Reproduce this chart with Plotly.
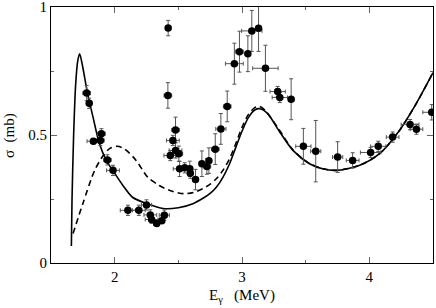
import plotly.graph_objects as go

# Experimental points
exp_x = [1.78, 1.80, 1.896, 1.833, 1.888, 1.943, 1.987, 2.104, 2.19, 2.25, 2.28, 2.29, 2.33, 2.37, 2.39,
         2.418, 2.42, 2.478, 2.457, 2.478, 2.437, 2.504, 2.51, 2.55, 2.59, 2.594, 2.635, 2.685, 2.724, 2.74,
         2.79, 2.834, 2.884, 2.94, 2.98, 3.046, 3.077, 3.13, 3.184, 3.28, 3.297, 3.386, 3.482, 3.579,
         3.751, 3.869, 4.01, 4.07, 4.183, 4.32, 4.37, 4.49]
exp_y = [0.664, 0.624, 0.505, 0.476, 0.479, 0.403, 0.362, 0.206, 0.206, 0.227, 0.188, 0.170, 0.154, 0.165, 0.187,
         0.655, 0.918, 0.520, 0.479, 0.440, 0.420, 0.427, 0.368, 0.372, 0.368, 0.351, 0.326, 0.388, 0.377, 0.400,
         0.445, 0.524, 0.612, 0.779, 0.826, 0.818, 0.907, 0.917, 0.761, 0.670, 0.647, 0.640, 0.456, 0.437,
         0.414, 0.401, 0.432, 0.456, 0.492, 0.541, 0.523, 0.589]
exp_ex = [0.03, 0.02, 0.03, 0.05, 0.03, 0.03, 0.05, 0.06, 0.05, 0.04, 0.05, 0.05, 0.02, 0.02, 0.04,
          0.03, 0.02, 0.03, 0.05, 0.05, 0.05, 0.03, 0.05, 0.03, 0.02, 0.02, 0.02, 0.02, 0.03, 0.02,
          0.03, 0.04, 0.03, 0.07, 0.03, 0.02, 0.08, 0.01, 0.10, 0.06, 0.06, 0.02, 0.06, 0.04,
          0.04, 0.05, 0.08, 0.06, 0.05, 0.07, 0.05, 0.07]
exp_ey = [0.03, 0.02, 0.02, 0.01, 0.02, 0.02, 0.02, 0.02, 0.02, 0.02, 0.02, 0.015, 0.01, 0.01, 0.02,
          0.05, 0.03, 0.05, 0.02, 0.03, 0.02, 0.03, 0.03, 0.02, 0.03, 0.02, 0.04, 0.05, 0.03, 0.05,
          0.06, 0.06, 0.06, 0.08, 0.08, 0.07, 0.08, 0.09, 0.09, 0.02, 0.02, 0.08, 0.07, 0.12,
          0.06, 0.03, 0.02, 0.02, 0.02, 0.02, 0.02, 0.03]

# Solid theory curve
solid_x = [1.66, 1.665, 1.678, 1.694, 1.71, 1.725, 1.75, 1.783, 1.83, 1.88, 1.935, 1.985, 2.065, 2.14, 2.25,
           2.38, 2.5, 2.614, 2.7, 2.75, 2.8, 2.85, 2.9, 2.95, 3.0, 3.05, 3.1, 3.14, 3.2, 3.29, 3.40, 3.53,
           3.64, 3.74, 3.92, 4.08, 4.235, 4.366, 4.50]
solid_y = [0.066, 0.245, 0.505, 0.70, 0.79, 0.818, 0.764, 0.673, 0.57, 0.467, 0.40, 0.362, 0.303, 0.257, 0.233,
           0.213, 0.216, 0.232, 0.255, 0.272, 0.297, 0.335, 0.385, 0.45, 0.515, 0.568, 0.598, 0.603, 0.585, 0.517,
           0.44, 0.388, 0.367, 0.362, 0.381, 0.427, 0.517, 0.621, 0.744]

# Dashed theory curve
dash_x = [1.673, 1.75, 1.843, 1.91, 1.96, 2.02, 2.08, 2.17, 2.26, 2.35, 2.43, 2.54, 2.62, 2.69, 2.75, 2.8,
          2.85, 2.9, 2.95, 3.0, 3.05, 3.1, 3.135, 3.18, 3.29, 3.40, 3.53, 3.64, 3.74, 3.92, 4.08, 4.235,
          4.366, 4.50]
dash_y = [0.115, 0.232, 0.362, 0.42, 0.447, 0.456, 0.445, 0.40, 0.335, 0.303, 0.284, 0.271, 0.276, 0.29, 0.308,
          0.33, 0.362, 0.405, 0.465, 0.53, 0.58, 0.607, 0.612, 0.597, 0.522, 0.442, 0.389, 0.368, 0.362, 0.381,
          0.427, 0.517, 0.621, 0.744]

x_ticks = [2, 3, 4]
y_ticks = [0, 0.5, 1]
y_tick_text = ["0", "0.5", "1"]

fig = go.Figure()
fig.add_trace(go.Scatter(x=dash_x, y=dash_y, mode="lines",
                         line=dict(color="black", width=1.6, dash="6px,4px", shape="spline", smoothing=0.8),
                         hoverinfo="skip", showlegend=False))
fig.add_trace(go.Scatter(x=solid_x, y=solid_y, mode="lines",
                         line=dict(color="black", width=1.6, shape="spline", smoothing=0.8),
                         hoverinfo="skip", showlegend=False))
fig.add_trace(go.Scatter(x=exp_x, y=exp_y, mode="markers",
                         marker=dict(color="black", size=7.5),
                         error_x=dict(type="data", array=exp_ex, color="#555", thickness=1, width=2),
                         error_y=dict(type="data", array=exp_ey, color="#555", thickness=1, width=2),
                         showlegend=False))

font = dict(family="Liberation Serif, Times New Roman, serif", size=15, color="black")
fig.update_layout(
    width=436, height=308,
    margin=dict(l=51, r=3, t=7, b=45),
    paper_bgcolor="white", plot_bgcolor="white",
    font=font,
    xaxis=dict(range=[1.5, 4.5], tickvals=x_ticks, ticktext=[str(v) for v in x_ticks],
               ticks="inside", ticklen=6, tickwidth=1, tickcolor="#666",
               minor=dict(tickvals=[2.5, 3.5], ticks="inside", ticklen=3, tickcolor="#666"),
               showline=True, linecolor="black", linewidth=1.2, mirror="allticks",
               showgrid=False, zeroline=False, automargin=False, ticklabeloverflow="allow"),
    yaxis=dict(range=[0, 1.0005], tickvals=y_ticks, ticktext=y_tick_text,
               ticks="inside", ticklen=6, tickwidth=1, tickcolor="#666",
               minor=dict(tickvals=[0.25, 0.75], ticks="inside", ticklen=3, tickcolor="#666"),
               showline=True, linecolor="black", linewidth=1.2, mirror="allticks",
               showgrid=False, zeroline=False, automargin=False, ticklabeloverflow="allow"),
    annotations=[
        dict(text="E<sub>γ</sub>   (MeV)", x=0.5, y=-0.085, xref="paper", yref="paper",
             xanchor="center", yanchor="top", showarrow=False, font=font),
        dict(text="σ  (mb)", x=-0.11, y=0.5, xref="paper", yref="paper", textangle=-90,
             xanchor="center", yanchor="middle", showarrow=False, font=font),
    ],
)
fig.write_html("out.html", config={"displayModeBar": False},
               post_script="document.body.style.margin='0';")
